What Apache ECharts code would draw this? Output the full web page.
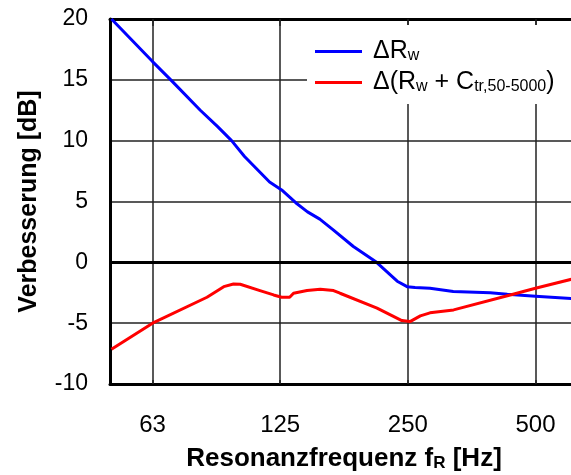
<!DOCTYPE html>
<html>
<head>
<meta charset="utf-8">
<script src="https://cdn.jsdelivr.net/npm/echarts@6/dist/echarts.min.js"></script>
<style>
  html, body { margin: 0; padding: 0; background: #fff; }
  #chart { width: 571px; height: 475px; }
</style>
</head>
<body>
<div id="chart"></div>
<script>
// octave band labels (positions are log2(f / 62.5))
const tickHz = [62.5, 125, 250, 500];
const tickLabels = ["63", "125", "250", "500"];

// ΔRw
const blueHz = [50, 62.5, 69, 81, 89, 96, 103, 118, 126, 136, 145, 155, 167, 186, 211, 236, 249, 260, 282, 320, 391, 429, 500, 608];
const blueDb = [20, 16.5, 15, 12.5, 11.15, 10.0, 8.7, 6.6, 5.95, 4.9, 4.15, 3.55, 2.65, 1.3, 0, -1.55, -2.0, -2.07, -2.13, -2.4, -2.5, -2.62, -2.78, -2.98];

// Δ(Rw + Ctr,50-5000)
const redHz = [50, 62.5, 84, 92, 97, 100.6, 112, 120.6, 126, 131.6, 134.4, 144.6, 155.4, 167, 173, 211.5, 242, 253, 267.6, 282, 320.6, 436, 500, 608];
const redDb = [-7.15, -5.0, -2.87, -2.0, -1.78, -1.8, -2.32, -2.68, -2.87, -2.87, -2.54, -2.32, -2.21, -2.32, -2.54, -3.77, -4.79, -4.87, -4.4, -4.15, -3.91, -2.68, -2.13, -1.39];

const seriesNames = ["ΔRw", "Δ(Rw + Ctr,50-5000)"];
const legendRich = {
  "ΔRw": "{t|ΔR}{s|w}",
  "Δ(Rw + Ctr,50-5000)": "{t|Δ(R}{s|w}{t| + C}{s|tr,50-5000}{t|)}"
};

const pos = f => Math.log2(f / 62.5);
const toPairs = (hz, db) => hz.map((f, i) => [pos(f), db[i]]);
const tickPos = tickHz.map(pos);
const FONT = "'Liberation Sans', Arial, sans-serif";

const chart = echarts.init(document.getElementById("chart"), null, { renderer: "canvas" });

chart.setOption({
  animation: false,
  textStyle: { fontFamily: FONT, color: "#000" },
  grid: { left: 110, top: 19, bottom: 91, right: -7, outerBoundsMode: "none" },
  legend: {
    data: seriesNames,
    orient: "vertical",
    left: 307,
    top: 25,
    padding: [14, 60, 9, 8],
    itemGap: 6,
    itemWidth: 47,
    itemHeight: 3,
    icon: "rect",
    backgroundColor: "#fff",
    borderWidth: 0,
    formatter: name => legendRich[name],
    textStyle: {
      padding: [0, 0, 0, 6],
      rich: {
        t: { fontSize: 25, lineHeight: 24, fontFamily: FONT, color: "#000" },
        s: { fontSize: 16, lineHeight: 13, verticalAlign: "bottom", fontFamily: FONT, color: "#000" }
      }
    }
  },
  xAxis: [
    {
      type: "value",
      min: -1 / 3,
      max: 10 / 3,
      position: "bottom",
      name: "{b|Resonanzfrequenz f}{bs|R}{b| [Hz]}",
      nameLocation: "middle",
      nameGap: 62,
      nameTextStyle: {
        rich: {
          b: { fontSize: 26, fontWeight: "bold", lineHeight: 26, fontFamily: FONT, color: "#000" },
          bs: { fontSize: 17, fontWeight: "bold", lineHeight: 14, verticalAlign: "bottom", fontFamily: FONT, color: "#000" }
        }
      },
      axisLine: { onZero: false, lineStyle: { color: "#000", width: 3 } },
      axisTick: { show: true, inside: true, length: 4, customValues: tickPos, lineStyle: { color: "#222", width: 1.5 } },
      axisLabel: {
        customValues: tickPos,
        formatter: v => tickLabels[Math.round(v)],
        fontSize: 24,
        margin: 29,
        color: "#000"
      },
      splitLine: { show: true, lineStyle: { color: "#222", width: 1.5 } }
    },
    {
      type: "value",
      min: -1 / 3,
      max: 10 / 3,
      position: "top",
      axisLine: { onZero: false, lineStyle: { color: "#000", width: 3 } },
      axisTick: { show: true, inside: true, length: 7, customValues: tickPos, lineStyle: { color: "#222", width: 1.5 } },
      axisLabel: { show: false },
      splitLine: { show: false }
    }
  ],
  yAxis: {
    type: "value",
    min: -10,
    max: 20,
    interval: 5,
    name: "Verbesserung [dB]",
    nameLocation: "middle",
    nameGap: 68,
    nameTextStyle: { fontSize: 25, fontWeight: "bold", color: "#000" },
    axisLine: { show: true, onZero: false, lineStyle: { color: "#000", width: 3 } },
    axisTick: { show: false },
    axisLabel: { fontSize: 23, margin: 22, color: "#000" },
    splitLine: { show: true, lineStyle: { color: "#222", width: 1.5 } }
  },
  series: [
    {
      name: "zero",
      type: "line",
      data: [],
      z: 1,
      markLine: {
        silent: true,
        symbol: ["none", "none"],
        label: { show: false },
        lineStyle: { color: "#000", width: 3, type: "solid" },
        data: [{ yAxis: 0 }]
      }
    },
    {
      name: seriesNames[0],
      type: "line",
      data: toPairs(blueHz, blueDb),
      showSymbol: false,
      symbol: "none",
      color: "#0000ff",
      lineStyle: { color: "#0000ff", width: 3 },
      z: 3
    },
    {
      name: seriesNames[1],
      type: "line",
      data: toPairs(redHz, redDb),
      showSymbol: false,
      symbol: "none",
      color: "#ff0000",
      lineStyle: { color: "#ff0000", width: 3 },
      z: 3
    }
  ]
});
</script>
</body>
</html>
